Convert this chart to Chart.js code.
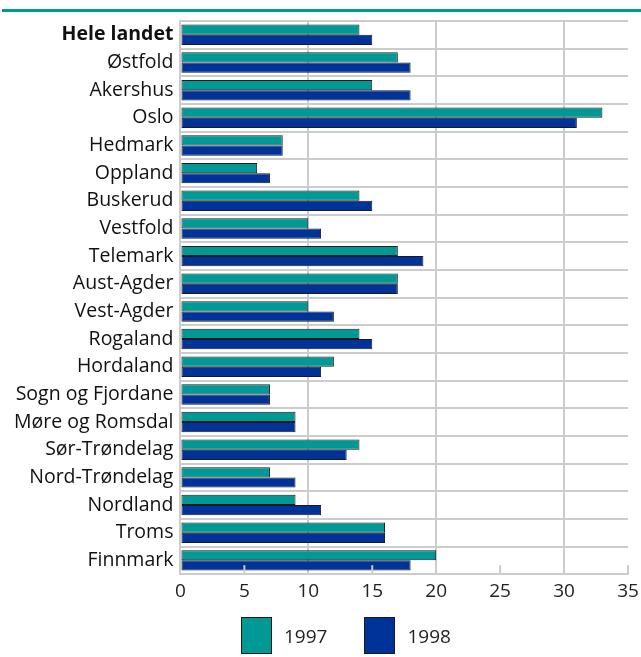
<!DOCTYPE html>
<html>
<head>
<meta charset="utf-8">
<script src="https://cdn.jsdelivr.net/npm/chart.js@4/dist/chart.umd.min.js"></script>
<style>
  html, body { margin: 0; padding: 0; background: #fff; }
  #wrap { position: relative; width: 641px; height: 657px; }
  #legend { position: absolute; left: 241px; top: 617px; display: flex; align-items: center;
            font-family: 'Open Sans', sans-serif; font-size: 19px; color: #222; }
  .legend-item { display: flex; align-items: center; margin-right: 37px; }
  .legend-box { width: 29px; height: 35px; border: 1px solid #1a1a1a; margin-right: 12px; }
</style>
</head>
<body>
<div id="wrap">
  <canvas id="chart" width="641" height="657"></canvas>
  <div id="legend"></div>
</div>
<script>
// ── Data ──
const counties = ['Hele landet', 'Østfold', 'Akershus', 'Oslo', 'Hedmark', 'Oppland', 'Buskerud',
  'Vestfold', 'Telemark', 'Aust-Agder', 'Vest-Agder', 'Rogaland', 'Hordaland', 'Sogn og Fjordane',
  'Møre og Romsdal', 'Sør-Trøndelag', 'Nord-Trøndelag', 'Nordland', 'Troms', 'Finnmark'];
const values1997 = [14, 17, 15, 33, 8, 6, 14, 10, 17, 17, 10, 14, 12, 7, 9, 14, 7, 9, 16, 20];
const values1998 = [15, 18, 18, 31, 8, 7, 15, 11, 19, 17, 12, 15, 11, 7, 9, 13, 9, 11, 16, 18];
const seriesLabels = ['1997', '1998'];
const xTicks = [0, 5, 10, 15, 20, 25, 30, 35];

const TEAL = '#009995';
const BLUE = '#003399';
const GRID = '#cccccc';
const FONT = 'Open Sans';

// ── Teal rule at the top + short tick marks on the x axis ──
const decor = {
  id: 'decor',
  beforeDraw(chart) {
    const c = chart.ctx;
    c.save();
    c.fillStyle = TEAL;
    c.fillRect(2, 9, chart.width - 2, 3);
    c.restore();
  },
  afterDraw(chart) {
    const c = chart.ctx, x = chart.scales.x, bottom = chart.chartArea.bottom;
    c.save();
    c.strokeStyle = GRID;
    c.lineWidth = 2;
    xTicks.filter(v => v % 10 !== 0).forEach(v => {
      const px = x.getPixelForValue(v);
      c.beginPath();
      c.moveTo(px, bottom);
      c.lineTo(px, bottom - 9);
      c.stroke();
    });
    c.restore();
  }
};

const chart = new Chart(document.getElementById('chart'), {
  type: 'bar',
  data: {
    labels: counties,
    datasets: [
      { label: seriesLabels[0], data: values1997, backgroundColor: TEAL },
      { label: seriesLabels[1], data: values1998, backgroundColor: BLUE }
    ]
  },
  options: {
    indexAxis: 'y',
    responsive: false,
    animation: false,
    devicePixelRatio: 1,
    layout: { padding: { top: 21, right: 13, left: 7, bottom: 48 } },
    datasets: {
      bar: {
        borderColor: '#1a1a1a',
        borderWidth: 1,
        borderSkipped: false,
        categoryPercentage: 0.74,
        barPercentage: 1.0
      }
    },
    plugins: {
      legend: { display: false },
      tooltip: { enabled: false }
    },
    scales: {
      x: {
        min: 0,
        max: 35,
        afterBuildTicks: axis => { axis.ticks = xTicks.map(v => ({ value: v })); },
        afterFit: axis => { axis.paddingRight = 0; },
        grid: {
          color: ctx => (ctx.tick && ctx.tick.value % 10 === 0 ? GRID : 'rgba(0,0,0,0)'),
          lineWidth: 2,
          drawTicks: false
        },
        border: { color: GRID, width: 2 },
        ticks: { padding: 6, color: '#222', font: { family: FONT, size: 19 } }
      },
      y: {
        grid: { color: GRID, lineWidth: 2, drawTicks: false },
        border: { color: GRID, width: 2 },
        ticks: {
          padding: 7,
          color: '#111',
          autoSkip: false,
          font: ctx => ({ family: FONT, size: 19.5, weight: ctx.index === 0 ? 'bold' : 'normal' })
        }
      }
    }
  },
  plugins: [decor]
});

// Custom HTML legend
document.getElementById('legend').innerHTML = chart.data.datasets.map(d =>
  `<span class="legend-item">
     <span class="legend-box" style="background:${d.backgroundColor}"></span>${d.label}
   </span>`
).join('');
</script>
</body>
</html>
